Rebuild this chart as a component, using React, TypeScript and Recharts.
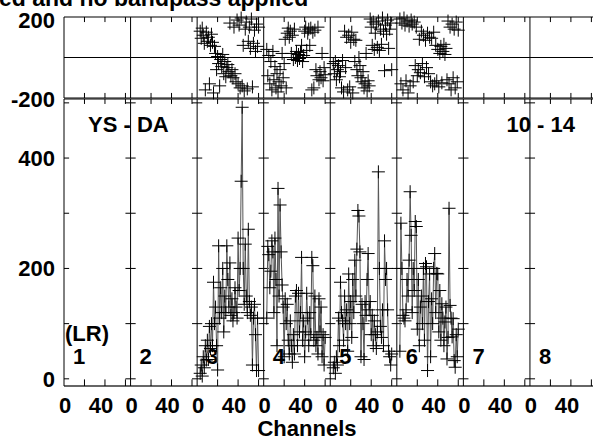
import React from "react";
import { ComposedChart, Line, XAxis, YAxis, ReferenceLine } from "recharts";

const FONT = "'Liberation Sans', Arial, Helvetica, sans-serif";
const PANEL_SPAN = 65;
const IF_LABELS = ["1", "2", "3", "4", "5", "6", "7", "8"];
const CHANNEL_TICKS = [20, 40, 60];
const CHANNEL_LABELS = [0, 40];

const CHANNELS = [
  3, 4, 5, 6, 7, 8, 9, 10, 11, 12, 13, 14, 15, 16, 17, 18, 19, 20, 21, 22, 23, 24, 25, 26, 27, 28, 29, 30, 31,
  32, 33, 34, 35, 36, 37, 38, 39, 40, 41, 42, 43, 44, 45, 46, 47, 48, 49, 50, 51, 52, 53, 54, 55, 56, 57, 58,
  59, 60,
];

// amplitude per IF (channels 3..60)
const AMP_IF3 = [
  10, 25, 5, 40, 20, 60, 34, 70, 35, 95, 55, 100, 60, 175, 100, 130, 60, 16, 241, 110, 165, 120, 200, 85, 150,
  120, 241, 180, 130, 210, 115, 145, 105, 120, 165, 130, 110, 255, 160, 200, 358, 492, 200, 135, 244, 150, 120,
  271, 140, 115, 130, 25, 110, 135, 80, 15, 110, 15,
];
const AMP_IF4 = [
  110, 240, 225, 165, 195, 250, 230, 120, 255, 180, 60, 345, 150, 315, 230, 170, 130, 40, 145, 100, 135, 70, 45,
  105, 60, 30, 80, 45, 150, 160, 60, 155, 85, 120, 220, 70, 105, 40, 85, 155, 110, 60, 120, 80, 220, 205, 70, 150,
  60, 75, 45, 145, 85, 130, 40, 80, 25, 75,
];
const AMP_IF5 = [
  20, 30, 10, 40, 25, 110, 60, 175, 120, 105, 70, 150, 100, 125, 50, 190, 100, 140, 75, 180, 120, 215, 150, 235,
  305, 295, 230, 40, 135, 100, 35, 140, 115, 180, 227, 125, 140, 80, 115, 60, 105, 80, 55, 85, 375, 200, 95, 75,
  125, 60, 250, 180, 200, 125, 50, 40, 25, 45,
];
const AMP_IF6 = [
  50, 282, 200, 115, 110, 105, 125, 180, 150, 215, 339, 260, 120, 200, 160, 285, 276, 90, 180, 60, 130, 150, 100,
  200, 70, 209, 203, 15, 140, 190, 40, 145, 100, 200, 227, 120, 191, 190, 85, 160, 70, 136, 110, 60, 103, 130, 36,
  75, 309, 133, 110, 76, 109, 33, 21, 80, 40, 90,
];

// phase per IF (channels 3..60)
const PHASE_IF3 = [
  130, 95, 145, 110, 70, -160, 125, 80, 100, -130, 60, 115, 75, -175, 55, 20, -60, 5, -30, -140, -10, -45, 15,
  -80, -20, -95, -50, -35, -70, 170, -90, -60, -100, 150, -80, -120, 185, -130, 160, -150, 195, -140, 60, -165,
  140, 175, -155, 80, 150, 45, 190, -145, 70, 135, 30, 165, 55, 150,
];
const PHASE_IF4 = [
  40, -90, 10, -130, -20, -160, 30, -110, -45, -150, -80, -170, -120, -60, -140, 20, -100, -30, 90, -150, 120,
  145, 100, 130, 20, 110, -10, 140, 0, 30, -15, 15, -5, 25, 60, -20, 10, 130, 150, 35, 120, 140, 60, 145, -160,
  125, -150, 135, -60, -90, 150, -110, -70, -100, 20, -115, -50, -85,
];
const PHASE_IF5 = [
  -30, -80, -20, -110, -60, -40, -95, -70, -150, -15, -170, 130, -50, 100, -160, 110, -145, 75, 125, -175, 90,
  -20, 85, -60, -90, 0, -40, -100, -120, -70, -150, -130, 20, -165, -115, -140, 190, 150, 60, 175, 40, 120, 165,
  50, 180, 35, 140, 65, 195, 130, -65, 160, 115, 185, 45, 140, 170, -60,
];
const PHASE_IF6 = [
  190, -130, 170, -160, 195, 160, -115, 180, -175, 155, -140, 185, 165, -120, 175, -40, 150, -90, -60, 90, -75,
  130, -30, 110, -95, 85, -50, 120, -80, 100, -120, 95, -140, 125, -130, 60, -115, 40, -145, 20, 55, -125, 30,
  65, 15, 45, -110, 180, -130, 150, -160, 165, -100, 140, -150, 175, -120, 135,
];

const AMP_DOMAIN = [-13, 507];
const AMP_LABELS = [0, 200, 400];
const AMP_MINOR = [0, 100, 200, 300, 400, 500];
const PHASE_LABELS = [-200, 200];

const DATA_IFS = [
  { panel: 2, amp: AMP_IF3, phase: PHASE_IF3 },
  { panel: 3, amp: AMP_IF4, phase: PHASE_IF4 },
  { panel: 4, amp: AMP_IF5, phase: PHASE_IF5 },
  { panel: 5, amp: AMP_IF6, phase: PHASE_IF6 },
];

const toPoints = (panel: number, values: number[]) =>
  CHANNELS.map((ch, i) => ({ x: panel * PANEL_SPAN + ch, v: values[i] }));

const boundaries = [...IF_LABELS.map((_, k) => k * PANEL_SPAN), IF_LABELS.length * PANEL_SPAN];
const xTicks = IF_LABELS.flatMap((_, k) => CHANNEL_LABELS.map((c) => k * PANEL_SPAN + c));
const xDomain = [0, IF_LABELS.length * PANEL_SPAN];

const textStyle = { fontFamily: FONT, fontWeight: 700, fontSize: 22, fill: "#000" };

const renderCross = (props: any) => {
  const { cx, cy, index } = props;
  if (cx == null || cy == null) return <g key={index} />;
  return (
    <path
      key={index}
      d={`M${cx - 6.5},${cy}h13M${cx},${cy - 6.5}v13`}
      stroke="#000"
      strokeWidth={1}
      fill="none"
    />
  );
};

function ChannelTick(props: any) {
  const { x, y, payload } = props;
  const ch = Math.round(payload.value) % PANEL_SPAN;
  return (
    <text x={x + (ch === 0 ? 1 : -4)} y={y + 27} textAnchor="middle" {...textStyle}>
      {ch}
    </text>
  );
}

function AmpTick(props: any) {
  const { y, payload } = props;
  return (
    <text x={55} y={y + 8} textAnchor="end" {...textStyle}>
      {payload.value}
    </text>
  );
}

function PhaseTick(props: any) {
  const { y, payload } = props;
  return (
    <text x={55} y={y + (payload.value > 0 ? 11 : 8.5)} textAnchor="end" {...textStyle}>
      {payload.value}
    </text>
  );
}

function PanelNumber(props: any) {
  const { viewBox, text } = props;
  if (!viewBox) return null;
  return (
    <text x={viewBox.x + 9} y={viewBox.y + viewBox.height - 22} {...textStyle}>
      {text}
    </text>
  );
}

const frameStroke = "#000";

export default function App() {
  return (
    <div style={{ position: "absolute", left: 0, top: 0, width: 593, height: 440, overflow: "hidden", background: "#fff" }}>
      {/* phase (top) */}
      <div style={{ position: "absolute", left: 0, top: 0 }}>
        <ComposedChart width={600} height={110} margin={{ top: 17, right: 3.5, bottom: 12, left: 0 }}>
          <XAxis dataKey="x" type="number" domain={xDomain} hide />
          <YAxis
            type="number"
            domain={[-200, 200]}
            ticks={PHASE_LABELS}
            width={64}
            axisLine={false}
            tickLine={false}
            tickSize={0}
            tickMargin={0}
            tick={<PhaseTick />}
            interval={0}
          />
          <ReferenceLine y={200} stroke={frameStroke} strokeWidth={1.2} ifOverflow="visible" />
          <ReferenceLine y={-200} stroke={frameStroke} strokeWidth={1.2} ifOverflow="visible" />
          <ReferenceLine y={0} stroke={frameStroke} strokeWidth={1} />
          {boundaries.map((b) => (
            <ReferenceLine key={`pb${b}`} x={b} stroke={frameStroke} strokeWidth={1} ifOverflow="visible" />
          ))}
          {IF_LABELS.flatMap((_, k) =>
            CHANNEL_TICKS.flatMap((c) => [
              <ReferenceLine
                key={`pt${k}-${c}`}
                segment={[{ x: k * PANEL_SPAN + c, y: 200 }, { x: k * PANEL_SPAN + c, y: 175 }]}
                stroke={frameStroke}
                ifOverflow="visible"
              />,
              <ReferenceLine
                key={`pbt${k}-${c}`}
                segment={[{ x: k * PANEL_SPAN + c, y: -200 }, { x: k * PANEL_SPAN + c, y: -175 }]}
                stroke={frameStroke}
                ifOverflow="visible"
              />,
            ])
          )}
          {DATA_IFS.map((d) => (
            <Line
              key={`ph${d.panel}`}
              data={toPoints(d.panel, d.phase)}
              dataKey="v"
              type="linear"
              stroke="none"
              dot={renderCross}
              activeDot={false}
              isAnimationActive={false}
            />
          ))}
        </ComposedChart>
      </div>

      {/* amplitude (bottom) */}
      <div style={{ position: "absolute", left: 0, top: 0 }}>
        <ComposedChart width={600} height={440} margin={{ top: 99, right: 3.5, bottom: 24, left: 0 }}>
          <XAxis
            dataKey="x"
            type="number"
            domain={xDomain}
            ticks={xTicks}
            interval={0}
            height={30}
            axisLine={false}
            tickLine={false}
            tickSize={0}
            tickMargin={0}
            tick={<ChannelTick />}
          />
          <YAxis
            type="number"
            domain={AMP_DOMAIN}
            allowDataOverflow
            ticks={AMP_LABELS}
            width={64}
            axisLine={false}
            tickLine={false}
            tickSize={0}
            tickMargin={0}
            tick={<AmpTick />}
            interval={0}
          />
          <ReferenceLine y={AMP_DOMAIN[1]} stroke={frameStroke} strokeWidth={1.2} ifOverflow="visible" />
          <ReferenceLine y={AMP_DOMAIN[0]} stroke="#333" strokeWidth={1.5} ifOverflow="visible" />
          {boundaries.map((b, k) => (
            <ReferenceLine
              key={`ab${b}`}
              x={b}
              stroke={frameStroke}
              strokeWidth={1}
              ifOverflow="visible"
              label={k < IF_LABELS.length ? <PanelNumber text={IF_LABELS[k]} /> : undefined}
            />
          ))}
          {IF_LABELS.flatMap((_, k) =>
            AMP_MINOR.map((v) => (
              <ReferenceLine
                key={`am${k}-${v}`}
                segment={[{ x: k * PANEL_SPAN - (k === 0 ? 0 : 5), y: v }, { x: k * PANEL_SPAN + 5, y: v }]}
                stroke={frameStroke}
                ifOverflow="visible"
              />
            ))
          )}
          {IF_LABELS.flatMap((_, k) =>
            CHANNEL_TICKS.flatMap((c) => [
              <ReferenceLine
                key={`abt${k}-${c}`}
                segment={[{ x: k * PANEL_SPAN + c, y: AMP_DOMAIN[0] }, { x: k * PANEL_SPAN + c, y: -1 }]}
                stroke={frameStroke}
                ifOverflow="visible"
              />,
              <ReferenceLine
                key={`att${k}-${c}`}
                segment={[{ x: k * PANEL_SPAN + c, y: AMP_DOMAIN[1] }, { x: k * PANEL_SPAN + c, y: AMP_DOMAIN[1] - 9 }]}
                stroke={frameStroke}
                ifOverflow="visible"
              />,
            ])
          )}
          {DATA_IFS.map((d) => (
            <Line
              key={`amp${d.panel}`}
              data={toPoints(d.panel, d.amp)}
              dataKey="v"
              type="linear"
              stroke="#555"
              strokeWidth={1}
              dot={renderCross}
              activeDot={false}
              isAnimationActive={false}
            />
          ))}
        </ComposedChart>
      </div>

      {/* annotations */}
      <svg width={593} height={440} style={{ position: "absolute", left: 0, top: 0, pointerEvents: "none" }}>
        <text x={-1} y={6} {...textStyle} fontSize={23}>
          ed and no bandpass applied
        </text>
        <text x={88} y={132} {...textStyle}>
          YS - DA
        </text>
        <text x={575} y={132} textAnchor="end" {...textStyle}>
          10 - 14
        </text>
        <text x={65} y={341} {...textStyle}>
          (LR)
        </text>
        <text x={307} y={436} textAnchor="middle" {...textStyle}>
          Channels
        </text>
      </svg>
    </div>
  );
}
